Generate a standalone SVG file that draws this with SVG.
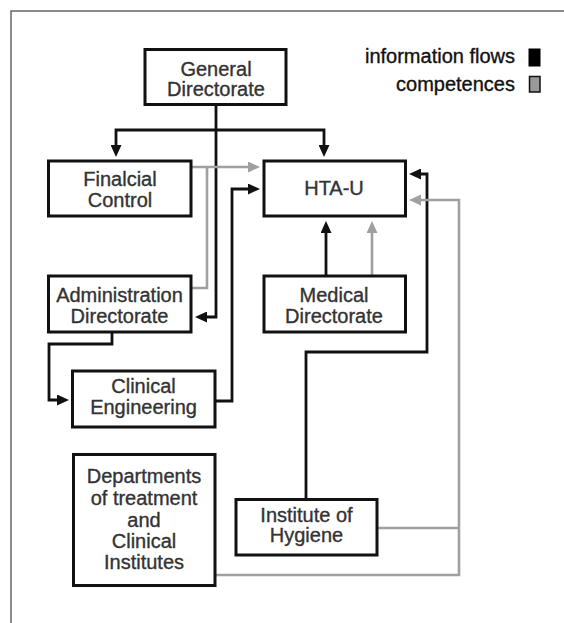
<svg xmlns="http://www.w3.org/2000/svg" width="564" height="623" viewBox="0 0 564 623">
<style>
.box{fill:#fff;stroke:#111;stroke-width:3}
.t{font-family:"Liberation Sans",Arial,sans-serif;font-size:20px;fill:#333;stroke:#333;stroke-width:0.35;text-anchor:middle}
.lg{font-family:"Liberation Sans",Arial,sans-serif;font-size:20px;fill:#111;stroke:#111;stroke-width:0.35;text-anchor:end}
.blk{fill:none;stroke:#111;stroke-width:2.8}
.gry{fill:none;stroke:#a0a0a0;stroke-width:2.6}
</style>
<defs>
<marker id="ab" viewBox="0 0 12 11" refX="3" refY="5.5" markerWidth="12" markerHeight="11" markerUnits="userSpaceOnUse" orient="auto-start-reverse"><path d="M0,0 L12,5.5 L0,11 z" fill="#111"/></marker>
<marker id="ag" viewBox="0 0 12 11" refX="3" refY="5.5" markerWidth="12" markerHeight="11" markerUnits="userSpaceOnUse" orient="auto-start-reverse"><path d="M0,0 L12,5.5 L0,11 z" fill="#a0a0a0"/></marker>
</defs>
<g id="frame"><path d="M11,623 V11 H564" fill="none" stroke="#666" stroke-width="1.5"/></g>
<g id="legend">
<text class="lg" x="515" y="63">information flows</text>
<rect x="529" y="49" width="11" height="17" fill="#000" stroke="#000" stroke-width="1"/>
<text class="lg" x="515" y="91">competences</text>
<rect x="529.5" y="76.5" width="10.5" height="15.5" fill="#999" stroke="#111" stroke-width="1.5"/>
</g>
<g id="connectors">
<path class="blk" d="M116,148 V130 H324 V148" marker-start="url(#ab)" marker-end="url(#ab)"/>
<path class="blk" d="M216,105 V317 H204" marker-end="url(#ab)"/>
<path class="gry" d="M191,167 H251" marker-end="url(#ag)"/>
<path class="gry" d="M191,288 H207 V167"/>
<path class="blk" d="M215,401 H232 V189 H251" marker-end="url(#ab)"/>
<path class="blk" d="M112,332 V344 H49 V400 H60" marker-end="url(#ab)"/>
<path class="blk" d="M326,276 V230" marker-end="url(#ab)"/>
<path class="gry" d="M372,276 V230" marker-end="url(#ag)"/>
<path class="blk" d="M306,499 V352 H427 V174 H418" marker-end="url(#ab)"/>
<path class="gry" d="M377,528 H459"/>
<path class="gry" d="M215,575 H459 V200 H418" marker-end="url(#ag)"/>
</g>
<g id="general">
<rect class="box" x="145" y="49.5" width="141" height="55"/>
<text class="t" x="216" y="76">General</text>
<text class="t" x="216" y="96">Directorate</text>
</g>
<g id="financial">
<rect class="box" x="48.5" y="161" width="142.5" height="55"/>
<text class="t" x="120" y="186">Finalcial</text>
<text class="t" x="120" y="207">Control</text>
</g>
<g id="htau">
<rect class="box" x="264" y="161" width="141.5" height="55"/>
<text class="t" x="334" y="195">HTA-U</text>
</g>
<g id="admin">
<rect class="box" x="48.5" y="276" width="142.5" height="56"/>
<text class="t" x="119.5" y="302">Administration</text>
<text class="t" x="119.5" y="323">Directorate</text>
</g>
<g id="medical">
<rect class="box" x="264" y="276" width="141.5" height="56"/>
<text class="t" x="334" y="302">Medical</text>
<text class="t" x="334" y="323">Directorate</text>
</g>
<g id="clinical">
<rect class="box" x="72.5" y="371" width="142.5" height="56"/>
<text class="t" x="143.5" y="393">Clinical</text>
<text class="t" x="143.5" y="414">Engineering</text>
</g>
<g id="departments">
<rect class="box" x="73.5" y="454.5" width="141.5" height="131"/>
<text class="t" x="144" y="483">Departments</text>
<text class="t" x="144" y="505">of treatment</text>
<text class="t" x="144" y="526.5">and</text>
<text class="t" x="144" y="548">Clinical</text>
<text class="t" x="144" y="569">Institutes</text>
</g>
<g id="hygiene">
<rect class="box" x="236" y="499.5" width="141" height="55.5"/>
<text class="t" x="306.5" y="522">Institute of</text>
<text class="t" x="306.5" y="542">Hygiene</text>
</g>
</svg>
